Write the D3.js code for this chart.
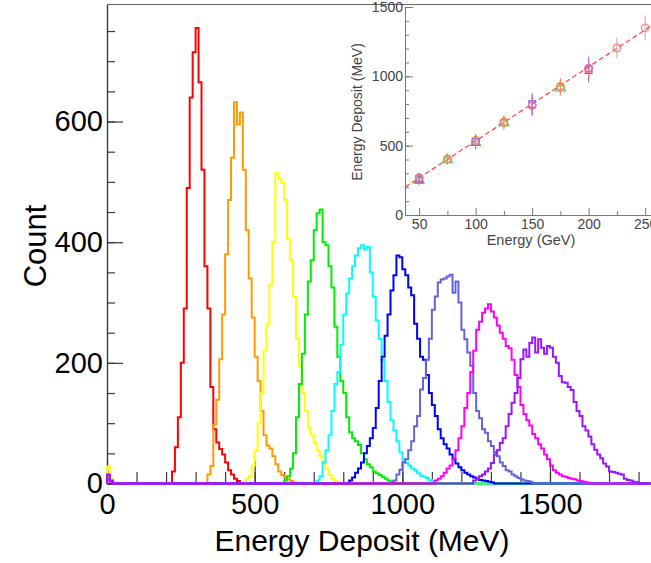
<!DOCTYPE html>
<html><head><meta charset="utf-8">
<script src="https://cdn.jsdelivr.net/npm/d3@7"></script>
<style>
body{margin:0;background:#fff;}
svg{display:block;}
text{font-family:"Liberation Sans",Arial,Helvetica,sans-serif;}
</style>
</head><body>
<svg id="c" width="651" height="563"></svg>
<script>
// ---------------- DATA ----------------
const binWidth = 10; // MeV
const beamEnergies = [50, 75, 100, 125, 150, 175, 200, 225, 250]; // GeV
const histColors = ["#ff0000","#ff9a00","#ffff00","#00ee00","#00ffff","#0000ff","#6464d8","#ff00ff","#9a16ff"];
const histStarts = [220, 340, 470, 600, 710, 820, 970, 1110, 1240];
const counts50  = [20,60,110,200,290,490,640,715,755,665,520,360,290,160,90,68,57,48,35,22,15,8,4];
const counts75  = [15,29,98,139,206,280,380,470,540,632,595,615,520,420,340,275,210,170,120,80,63,58,45,32,20,14,10,7,4,2];
const counts100 = [7,12,30,54,100,150,220,265,330,400,515,505,498,470,405,370,310,240,195,150,120,92,80,68,55,45,35,24,14,8,4];
const counts125 = [5,12,25,50,110,165,215,280,335,370,420,448,454,400,395,360,325,260,210,170,150,110,85,75,70,64,50,40,32,27,20,17,14,11,8,5,3];
const counts150 = [5,12,35,55,80,120,165,185,230,280,315,340,360,378,390,395,388,392,350,310,270,240,205,170,135,105,88,70,52,40,34,30,25,22,17,13,11,9,6,4];
const counts175 = [5,10,18,25,35,50,62,75,92,125,170,210,245,280,320,345,378,375,355,345,325,312,265,240,210,205,180,150,130,112,90,75,65,58,48,40,33,27,22,18,15,12,10,8,6,5,4,3,2];
const counts200 = [5,15,23,35,40,55,70,95,112,156,175,205,240,288,310,333,338,340,343,346,316,335,300,255,239,217,195,150,120,108,90,84,70,62,52,45,35,29,22,20,15,12,9,7,5,4,3];
const counts225 = [5,8,12,18,25,30,42,55,75,95,125,150,185,220,255,268,283,290,297,285,275,262,250,240,228,224,205,180,160,130,115,105,96,82,75,65,58,48,40,30,22,18,15,12,11,9,8,7,5,4,3,2];
const counts250 = [5,8,12,15,20,25,34,48,55,67,75,95,115,134,150,175,206,222,210,233,242,217,239,225,215,228,225,210,200,178,168,167,160,155,135,120,112,95,88,78,65,56,48,42,33,28,20,19,18,16,15,8,6,5,3,2];
const histCounts = [counts50, counts75, counts100, counts125, counts150, counts175, counts200, counts225, counts250];
// low-energy spike in the first bins
const zeroSpike = [[12,4],[10,3],[28,8],[8,3],[8,3],[6,2],[8,3],[6,2],[15,5]];

const xTickValues = [0, 500, 1000, 1500];
const yTickValues = [0, 200, 400, 600];

// inset: mean deposit vs beam energy
const insetRedE   = [50, 75, 100, 125, 150, 175, 200, 225, 250];
const insetRedV   = [262, 402, 530, 668, 795, 925, 1052, 1205, 1350];
const insetRedErr = [30, 35, 40, 45, 55, 60, 70, 75, 90];
const insetBlueE   = [50, 100, 150, 200];
const insetBlueV   = [258, 528, 800, 1045];
const insetBlueErr = [40, 55, 80, 90];
const insetGreenE   = [50, 75, 100, 125, 175];
const insetGreenV   = [250, 398, 522, 665, 915];
const insetGreenErr = [30, 35, 45, 50, 55];
const insetPurpleE   = [50, 150, 200];
const insetPurpleV   = [268, 790, 1058];
const insetPurpleErr = [35, 75, 85];
const insetOrangeE   = [75, 100, 125, 175];
const insetOrangeV   = [405, 540, 672, 930];
const insetOrangeErr = [35, 40, 45, 60];
const fitLineE = [37.5, 262.5];
const fitLineV = [201, 1402];
const insetXTicks = [50, 100, 150, 200, 250];
const insetYTicks = [0, 500, 1000, 1500];

// ---------------- DRAW ----------------
const svg = d3.select("#c");
const x = d3.scaleLinear().domain([0, 1840]).range([107, 650.4]);
const y = d3.scaleLinear().domain([0, 794]).range([483.5, 4.5]);
const axisCol = "#3a3a3a";

// top frame line
svg.append("line").attr("x1", 107).attr("x2", 651).attr("y1", 4.5).attr("y2", 4.5)
  .attr("stroke", "#666").attr("stroke-width", 1.2);

// x axis
const gxm = svg.append("g").attr("transform", "translate(0,483.5)");
gxm.call(d3.axisBottom(x).tickValues(d3.range(0, 1841, 100)).tickSize(-11.5).tickSizeOuter(0).tickFormat(""));
const gx = svg.append("g").attr("transform", "translate(0,483.5)");
gx.call(d3.axisBottom(x).tickValues(xTickValues).tickSize(-23).tickSizeOuter(0).tickPadding(10).tickFormat(d3.format("d")));
gx.selectAll("text").attr("font-size", 29).attr("fill", "#000");

// y axis
const gym = svg.append("g").attr("transform", "translate(107,0)");
gym.call(d3.axisLeft(y).tickValues(d3.range(0, 794, 50)).tickSize(-8).tickSizeOuter(0).tickFormat(""));
const gy = svg.append("g").attr("transform", "translate(107,0)");
gy.call(d3.axisLeft(y).tickValues(yTickValues).tickSize(-16).tickSizeOuter(0).tickPadding(4).tickFormat(d3.format("d")));
gy.selectAll("text").attr("font-size", 29).attr("fill", "#000");
svg.selectAll(".domain, .tick line").attr("stroke", axisCol).attr("stroke-width", 1.2);

// titles
svg.append("text").attr("x", 362).attr("y", 551).attr("text-anchor", "middle")
  .attr("font-size", 30).text("Energy Deposit (MeV)");
svg.append("text").attr("transform", "translate(46,246) rotate(-90)").attr("text-anchor", "middle")
  .attr("font-size", 31).text("Count");

// histograms
const line = d3.line().x(d => x(d[0])).y(d => y(d[1]));
histCounts.forEach((cs, k) => {
  const pts = [[0, 0]];
  zeroSpike[k].forEach((v, i) => { pts.push([i * binWidth, v]); pts.push([(i + 1) * binWidth, v]); });
  pts.push([zeroSpike[k].length * binWidth, 0]);
  const s = histStarts[k];
  pts.push([s, 0]);
  cs.forEach((v, i) => { pts.push([s + i * binWidth, v]); pts.push([s + (i + 1) * binWidth, v]); });
  pts.push([s + cs.length * binWidth, 0]);
  pts.push([1840, 0]);
  svg.append("path").attr("d", line(pts)).attr("fill", "none")
    .attr("stroke", histColors[k]).attr("stroke-width", 2).attr("stroke-linejoin", "miter");
});

// ---------------- INSET ----------------
const ix = d3.scaleLinear().domain([37.5, 262.5]).range([405, 659.3]);
const iy = d3.scaleLinear().domain([0, 1500]).range([215, 7]);
const ins = svg.append("g");
const inCol = "#777";
const iax = ins.append("g").attr("transform", "translate(0,215)");
iax.call(d3.axisBottom(ix).tickValues([75, 125, 175, 225]).tickSize(-4).tickSizeOuter(0).tickFormat(""));
const iax2 = ins.append("g").attr("transform", "translate(0,215)");
iax2.call(d3.axisBottom(ix).tickValues(insetXTicks).tickSize(-7).tickSizeOuter(0).tickPadding(4).tickFormat(d3.format("d")));
const iay = ins.append("g").attr("transform", "translate(405,0)");
iay.call(d3.axisLeft(iy).tickValues(d3.range(0, 1501, 100)).tickSize(-4).tickSizeOuter(0).tickFormat(""));
const iay2 = ins.append("g").attr("transform", "translate(405,0)");
iay2.call(d3.axisLeft(iy).tickValues(insetYTicks).tickSize(-8).tickSizeOuter(0).tickPadding(2).tickFormat(d3.format("d")));
ins.selectAll(".domain, .tick line").attr("stroke", inCol).attr("stroke-width", 1);
ins.selectAll("text").attr("font-size", 14).attr("fill", "#444");
ins.append("text").attr("x", 531).attr("y", 245).attr("text-anchor", "middle")
  .attr("font-size", 14.5).attr("fill", "#444").text("Energy (GeV)");
ins.append("text").attr("transform", "translate(362,112) rotate(-90)").attr("text-anchor", "middle")
  .attr("font-size", 14).attr("fill", "#444").text("Energy Deposit (MeV)");

// fit line
ins.append("line").attr("x1", ix(fitLineE[0])).attr("y1", iy(fitLineV[0]))
  .attr("x2", ix(fitLineE[1])).attr("y2", iy(fitLineV[1]))
  .attr("stroke", "#ff4a4a").attr("stroke-width", 1.3).attr("stroke-dasharray", "5,3");

function drawSeries(E, V, Err, color, shape) {
  const g = ins.append("g");
  E.forEach((e, i) => {
    g.append("line").attr("x1", ix(e)).attr("x2", ix(e))
      .attr("y1", iy(V[i] - Err[i])).attr("y2", iy(V[i] + Err[i]))
      .attr("stroke", color).attr("stroke-width", 1).attr("opacity", 0.8);
    g.append("path").attr("transform", `translate(${ix(e)},${iy(V[i])})`)
      .attr("d", d3.symbol().type(shape).size(45)())
      .attr("fill", "none").attr("stroke", color).attr("stroke-width", 1.1);
  });
}
drawSeries(insetGreenE, insetGreenV, insetGreenErr, "#3fcf3f", d3.symbolTriangle);
drawSeries(insetOrangeE, insetOrangeV, insetOrangeErr, "#f0a040", d3.symbolCircle);
drawSeries(insetBlueE, insetBlueV, insetBlueErr, "#5a5aff", d3.symbolSquare);
drawSeries(insetPurpleE, insetPurpleV, insetPurpleErr, "#b044d8", d3.symbolCircle);
drawSeries(insetRedE, insetRedV, insetRedErr, "#ff7a7a", d3.symbolCircle);
</script>
</body></html>
